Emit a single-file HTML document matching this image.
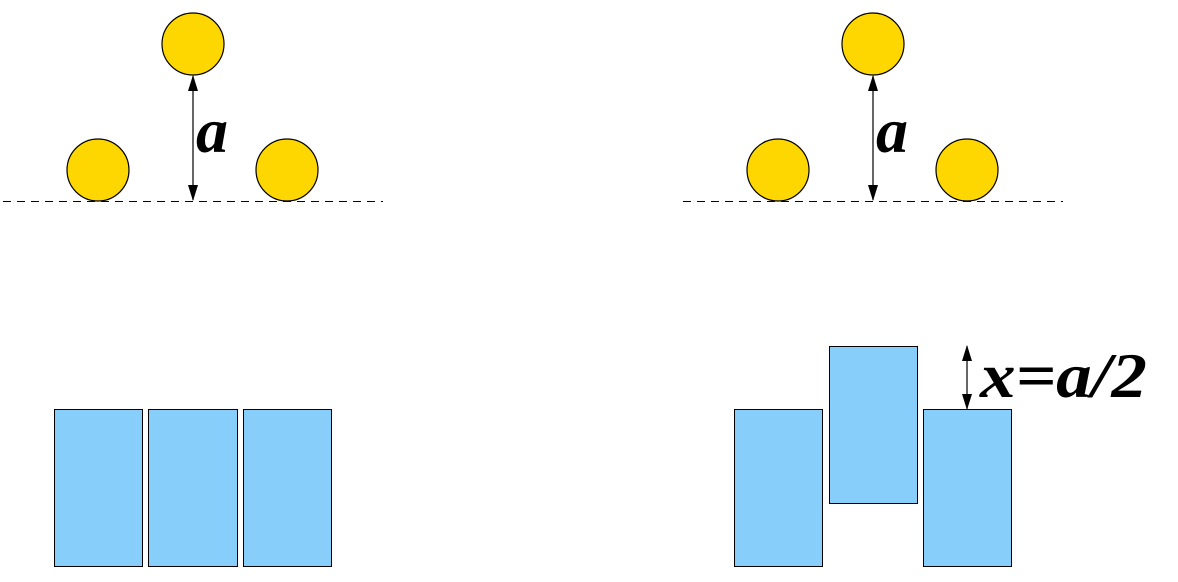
<!DOCTYPE html>
<html><head><style>body{margin:0;background:#fff}
.t{font-family:"Liberation Serif","DejaVu Serif",serif;font-style:italic;font-weight:bold;font-size:64px}</style></head><body>
<svg width="1178" height="577" xmlns="http://www.w3.org/2000/svg">
<defs><marker id="ah" markerWidth="16" markerHeight="10" refX="15" refY="5" orient="auto-start-reverse" markerUnits="userSpaceOnUse"><path d="M0,0 L16,5 L0,10 z" fill="#000"/></marker></defs>
<g fill="#ffd700" stroke="#000" stroke-width="1.2">
<circle cx="193" cy="44" r="31"/><circle cx="98" cy="170" r="31"/><circle cx="287" cy="170" r="31"/>
<circle cx="873" cy="44" r="31"/><circle cx="778" cy="170" r="31"/><circle cx="967" cy="170" r="31"/>
</g>
<g stroke="#000" stroke-width="1" stroke-dasharray="8,6">
<line x1="3" y1="201.5" x2="383" y2="201.5"/><line x1="683" y1="201.5" x2="1063" y2="201.5"/>
</g>
<g stroke="#000" stroke-width="1.2">
<line x1="193" y1="76" x2="193" y2="200" marker-start="url(#ah)" marker-end="url(#ah)"/>
<line x1="873" y1="76" x2="873" y2="200" marker-start="url(#ah)" marker-end="url(#ah)"/>
<line x1="967" y1="346" x2="967" y2="409" marker-start="url(#ah)" marker-end="url(#ah)"/>
</g>
<g class="t">
<text x="196" y="152">a</text><text x="876" y="152">a</text>
<text x="980" y="397" textLength="167" lengthAdjust="spacingAndGlyphs">x=a/2</text>
</g>
<g fill="#87cefa" stroke="#000" stroke-width="1">
<rect x="54.5" y="409.5" width="88" height="157"/><rect x="148.5" y="409.5" width="89" height="157"/><rect x="243.5" y="409.5" width="88" height="157"/>
<rect x="734.5" y="409.5" width="88" height="157"/><rect x="829.5" y="346.5" width="88" height="157"/><rect x="923.5" y="409.5" width="88" height="157"/>
</g>
</svg>
</body></html>
